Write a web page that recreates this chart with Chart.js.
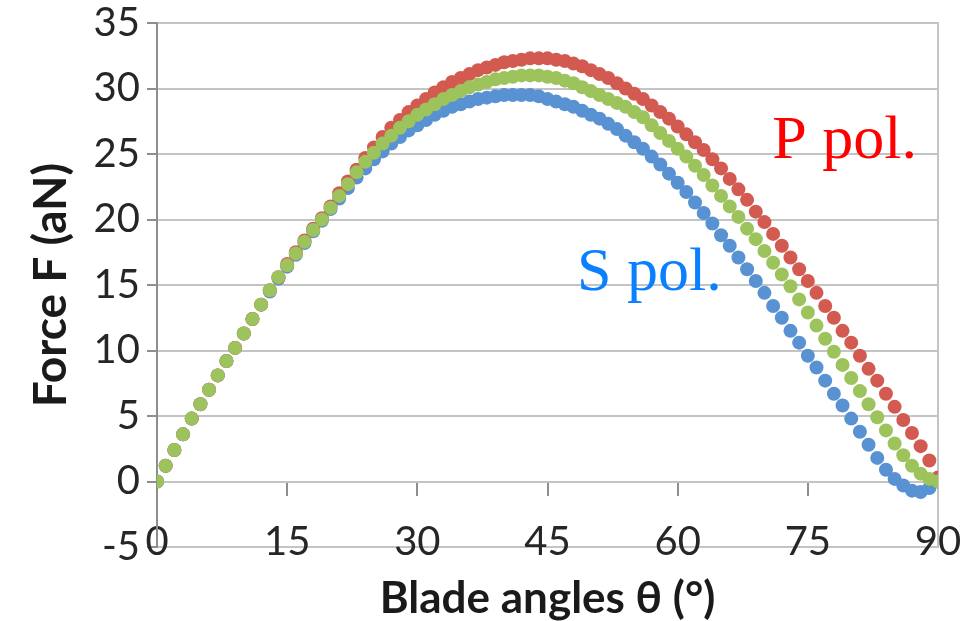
<!DOCTYPE html>
<html>
<head>
<meta charset="utf-8">
<script src="https://cdn.jsdelivr.net/npm/chart.js@4.4.1/dist/chart.umd.min.js"></script>
<style>
  html, body { margin: 0; padding: 0; background: #ffffff; }
  #wrap { width: 976px; height: 621px; }
</style>
</head>
<body>
<div id="wrap"><canvas id="forceChart"></canvas></div>
<script>
// Blade angle (degrees), one sample per degree
const angles = [
  0, 1, 2, 3, 4, 5, 6, 7, 8, 9, 10, 11, 12, 13, 14, 15, 16, 17, 18, 19,
  20, 21, 22, 23, 24, 25, 26, 27, 28, 29, 30, 31, 32, 33, 34, 35, 36, 37, 38, 39,
  40, 41, 42, 43, 44, 45, 46, 47, 48, 49, 50, 51, 52, 53, 54, 55, 56, 57, 58, 59,
  60, 61, 62, 63, 64, 65, 66, 67, 68, 69, 70, 71, 72, 73, 74, 75, 76, 77, 78, 79,
  80, 81, 82, 83, 84, 85, 86, 87, 88, 89, 90
];

// Force F (aN)
const forceS = [
  0, 1.2, 2.4, 3.6, 4.8, 5.9, 7.0, 8.1, 9.2, 10.2, 11.3, 12.4, 13.5, 14.5, 15.5, 16.4, 17.3, 18.2, 19.1, 19.9,
  20.8, 21.6, 22.4, 23.2, 23.9, 24.6, 25.2, 25.8, 26.3, 26.8, 27.2, 27.6, 28.0, 28.3, 28.6, 28.8, 29.0, 29.2, 29.3, 29.4,
  29.5, 29.5, 29.5, 29.5, 29.4, 29.2, 29.0, 28.8, 28.6, 28.3, 28.0, 27.7, 27.3, 26.9, 26.4, 25.9, 25.4, 24.8, 24.2, 23.5,
  22.8, 22.1, 21.3, 20.5, 19.7, 18.8, 18.0, 17.1, 16.2, 15.3, 14.4, 13.4, 12.5, 11.5, 10.6, 9.6, 8.7, 7.7, 6.7, 5.8,
  4.8, 3.8, 2.8, 1.8, 0.9, 0.2, -0.3, -0.7, -0.8, -0.5, 0
];
const forceP = [
  0, 1.2, 2.4, 3.6, 4.8, 5.9, 7.0, 8.1, 9.2, 10.2, 11.3, 12.4, 13.5, 14.6, 15.6, 16.6, 17.5, 18.4, 19.3, 20.1,
  21.0, 22.0, 22.9, 23.8, 24.7, 25.5, 26.3, 27.0, 27.6, 28.2, 28.7, 29.2, 29.7, 30.1, 30.5, 30.8, 31.1, 31.4, 31.6, 31.8,
  32.0, 32.1, 32.2, 32.3, 32.3, 32.3, 32.2, 32.1, 31.9, 31.7, 31.4, 31.1, 30.8, 30.4, 30.0, 29.6, 29.2, 28.7, 28.2, 27.7,
  27.1, 26.5, 25.9, 25.3, 24.6, 23.9, 23.1, 22.3, 21.5, 20.6, 19.8, 18.9, 18.0, 17.1, 16.2, 15.3, 14.4, 13.4, 12.5, 11.5,
  10.6, 9.6, 8.6, 7.7, 6.7, 5.7, 4.7, 3.7, 2.7, 1.6, 0.3
];
const forceMid = [
  0, 1.2, 2.4, 3.6, 4.8, 5.9, 7.0, 8.1, 9.2, 10.2, 11.3, 12.4, 13.5, 14.6, 15.6, 16.5, 17.4, 18.3, 19.2, 20.0,
  20.9, 21.8, 22.7, 23.6, 24.4, 25.1, 25.8, 26.4, 27.0, 27.5, 28.0, 28.4, 28.8, 29.2, 29.5, 29.8, 30.1, 30.3, 30.5, 30.7,
  30.8, 30.9, 31.0, 31.0, 31.0, 30.9, 30.8, 30.6, 30.4, 30.1, 29.8, 29.5, 29.2, 28.9, 28.6, 28.2, 27.8, 27.2, 26.6, 26.0,
  25.4, 24.8, 24.1, 23.4, 22.6, 21.8, 21.0, 20.2, 19.3, 18.5, 17.6, 16.7, 15.8, 14.9, 13.9, 12.9, 11.9, 10.9, 9.9, 8.9,
  7.9, 6.9, 5.9, 4.9, 3.9, 2.9, 2.0, 1.2, 0.6, 0.2, 0
];

const xTicks = [0, 15, 30, 45, 60, 75, 90];
const yTicks = [-5, 0, 5, 10, 15, 20, 25, 30, 35];

// text labels placed in data coordinates (angle, force)
const curveNotes = [
  { text: 'P pol.', x: 70.9, y: 24.7, color: '#ff0000' },
  { text: 'S pol.', x: 48.4, y: 14.6, color: '#0a80ff' }
];

const toPoints = (vals) => angles.map((a, i) => ({ x: a, y: vals[i] }));

const gridGray = '#c4c4c4';
const axisGray = '#8e8e8e';
const xTickFont = { family: 'Lato', size: 40 };
const yTickFont = { family: 'Lato', size: 40, lineHeight: 0.8 };
const setXTicks = s => { s.ticks = xTicks.map(v => ({ value: v })); };

const notesPlugin = {
  id: 'curveNotes',
  afterDatasetsDraw(chart) {
    const { ctx, scales } = chart;
    ctx.save();
    ctx.font = '62px "Liberation Serif"';
    ctx.textBaseline = 'alphabetic';
    ctx.textAlign = 'left';
    curveNotes.forEach(n => {
      ctx.fillStyle = n.color;
      ctx.fillText(n.text, scales.x.getPixelForValue(n.x), scales.y.getPixelForValue(n.y));
    });
    ctx.restore();
  }
};

const ctx = document.getElementById('forceChart');
new Chart(ctx.getContext('2d'), {
  type: 'scatter',
  data: {
    datasets: [
      { label: 'mid', data: toPoints(forceMid), backgroundColor: '#9dc35c' },
      { label: 'P pol.', data: toPoints(forceP), backgroundColor: '#d35a50' },
      { label: 'S pol.', data: toPoints(forceS), backgroundColor: '#5892d2' }
    ].map(d => Object.assign(d, { pointRadius: 7, pointHoverRadius: 7, borderWidth: 0, showLine: false }))
  },
  options: {
    responsive: true,
    maintainAspectRatio: false,
    animation: false,
    layout: { padding: { left: 0, right: 38, top: 17, bottom: 0 } },
    plugins: { legend: { display: false }, tooltip: { enabled: false } },
    scales: {
      // bottom box: only the axis title
      x: {
        type: 'linear', position: 'bottom', min: 0, max: 90,
        afterBuildTicks: setXTicks,
        afterFit: s => { s.height = 74; },
        grid: { display: false, drawTicks: false },
        border: { display: false },
        ticks: { display: false },
        title: { display: true, text: 'Blade angles θ (°)', font: { family: 'Lato', size: 44, weight: 'bold' }, color: '#1a1a1a', padding: { top: 0, bottom: -4 } }
      },
      // tick labels sit on the -5 gridline
      xLabels: {
        type: 'linear', axis: 'x', position: { y: -5 }, min: 0, max: 90,
        afterBuildTicks: setXTicks,
        grid: { display: false, drawTicks: false },
        border: { display: false },
        ticks: { font: xTickFont, color: '#262626', padding: -29, maxRotation: 0 }
      },
      // axis line crossing at 0 with tick marks
      xZero: {
        type: 'linear', axis: 'x', position: { y: 0 }, min: 0, max: 90,
        afterBuildTicks: setXTicks,
        grid: { drawOnChartArea: false, drawTicks: true, tickLength: 13, color: axisGray, lineWidth: 2 },
        border: { display: true, color: gridGray, width: 2 },
        ticks: { display: false }
      },
      y: {
        type: 'linear', position: 'left', min: -5, max: 35,
        afterBuildTicks: s => { s.ticks = yTicks.map(v => ({ value: v })); },
        afterFit: s => { s.width = 157; },
        grid: { color: gridGray, lineWidth: 2, tickLength: 10, tickColor: axisGray },
        border: { display: true, color: axisGray, width: 2 },
        ticks: { font: yTickFont, color: '#262626', padding: 7 },
        title: { display: true, text: 'Force F (aN)', font: { family: 'Lato', size: 46, weight: 'bold' }, color: '#1a1a1a', padding: { top: 24, bottom: 0 } }
      },
      yRight: {
        type: 'linear', axis: 'y', position: 'right', min: -5, max: 35,
        afterFit: s => { s.width = 0; },
        grid: { display: false },
        border: { display: true, color: gridGray, width: 2 },
        ticks: { display: false }
      }
    }
  },
  plugins: [notesPlugin]
});
</script>
</body>
</html>
